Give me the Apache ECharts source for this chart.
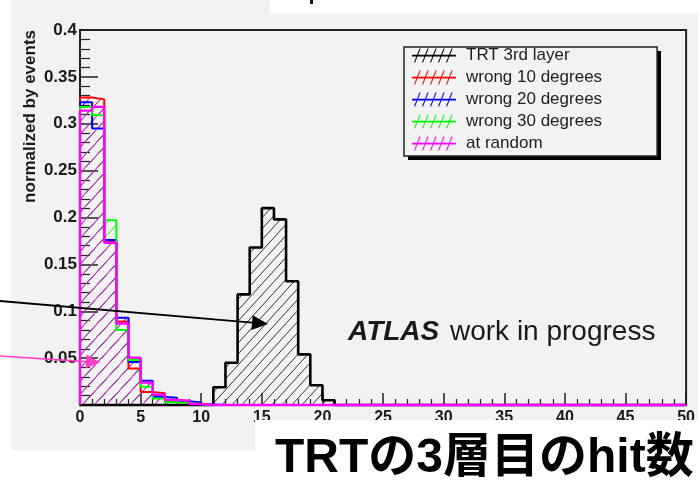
<!DOCTYPE html>
<html>
<head>
<meta charset="utf-8" />
<title>TRT 3rd layer hits</title>
<script type="text/javascript" src="https://cdn.jsdelivr.net/npm/echarts@6/dist/echarts.min.js"></script>
<style>
  body { margin: 0; background: #fff; }
  #container { width: 698px; height: 482px; }
</style>
</head>
<body>
<div id="container"></div>
<script type="text/javascript">
// bin contents, one value per unit bin from 0 to 50
var seriesNames = ['TRT 3rd layer', 'wrong 10 degrees', 'wrong 20 degrees', 'wrong 30 degrees', 'at random'];
var trt3rd = [0, 0, 0, 0, 0, 0, 0, 0, 0, 0,
              0, 0.019, 0.045, 0.118, 0.168, 0.210, 0.198, 0.132, 0.054, 0.021,
              0.005, 0, 0, 0, 0, 0, 0, 0, 0, 0,
              0, 0, 0, 0, 0, 0, 0, 0, 0, 0,
              0, 0, 0, 0, 0, 0, 0, 0, 0, 0];
var wrong10 = [0.328, 0.326, 0.175, 0.089, 0.039, 0.014, 0.0125, 0.0036, 0.002, 0.001,
               0, 0, 0, 0, 0, 0, 0, 0, 0, 0,
               0, 0, 0, 0, 0, 0, 0, 0, 0, 0,
               0, 0, 0, 0, 0, 0, 0, 0, 0, 0,
               0, 0, 0, 0, 0, 0, 0, 0, 0, 0];
var wrong20 = [0.323, 0.295, 0.176, 0.093, 0.046, 0.026, 0.0085, 0.0078, 0.004, 0.0028,
               0.0005, 0, 0, 0, 0, 0, 0, 0, 0, 0,
               0, 0, 0, 0, 0, 0, 0, 0, 0, 0,
               0, 0, 0, 0, 0, 0, 0, 0, 0, 0,
               0, 0, 0, 0, 0, 0, 0, 0, 0, 0];
var wrong30 = [0.318, 0.309, 0.197, 0.080, 0.048, 0.0196, 0.007, 0.003, 0.002, 0.001,
               0, 0, 0, 0, 0, 0, 0, 0, 0, 0,
               0, 0, 0, 0, 0, 0, 0, 0, 0, 0,
               0, 0, 0, 0, 0, 0, 0, 0, 0, 0,
               0, 0, 0, 0, 0, 0, 0, 0, 0, 0];
var atRandom = [0.314, 0.318, 0.173, 0.087, 0.0505, 0.024, 0.011, 0.0055, 0.0046, 0.001,
                0, 0, 0, 0, 0, 0, 0, 0, 0, 0,
                0, 0, 0, 0, 0, 0, 0, 0, 0, 0,
                0, 0, 0, 0, 0, 0, 0, 0, 0, 0,
                0, 0, 0, 0, 0, 0, 0, 0, 0, 0];
var seriesColors = ['#000000', '#ff0000', '#0000ff', '#00ff00', '#ff00ff'];

var FONT = 'Liberation Sans, Arial, Helvetica, sans-serif';

// step points for a histogram: bin i covers [i, i+1]
function histPoints(vals) {
    var pts = [[0, 0]];
    for (var i = 0; i < vals.length; i++) pts.push([i, vals[i]]);
    pts.push([vals.length, 0]);
    return pts;
}

// "/" hatch tile
function hatch(color, w, h, lw) {
    var c = document.createElement('canvas');
    c.width = w; c.height = h;
    var g = c.getContext('2d');
    g.strokeStyle = color;
    g.lineWidth = lw;
    g.beginPath();
    g.moveTo(0, h); g.lineTo(w, 0);
    g.moveTo(-w, h); g.lineTo(0, 0);
    g.moveTo(w, h); g.lineTo(2 * w, 0);
    g.stroke();
    return c;
}

function arrow(x1, y1, x2, y2, color, len, half, lw) {
    var dx = x2 - x1, dy = y2 - y1, d = Math.sqrt(dx * dx + dy * dy);
    var ux = dx / d, uy = dy / d;
    var bx = x2 - ux * len, by = y2 - uy * len;
    return [
        { type: 'line', z: 110, shape: { x1: x1, y1: y1, x2: bx, y2: by }, style: { stroke: color, lineWidth: lw } },
        { type: 'polygon', z: 110, shape: { points: [[x2, y2], [bx - uy * half, by + ux * half], [bx + uy * half, by - ux * half]] }, style: { fill: color } }
    ];
}

var legendIcon = 'path://M0 6.2L44 6.2L44 8L0 8Z' +
    'M2 14L7.5 0L8.6 0L3.1 14Z M10 14L15.5 0L16.6 0L11.1 14Z M18 14L23.5 0L24.6 0L19.1 14Z' +
    'M26 14L31.5 0L32.6 0L27.1 14Z M34 14L39.5 0L40.6 0L35.1 14Z';

var allData = [trt3rd, wrong10, wrong20, wrong30, atRandom];
var hatches = [
    hatch('#333333', 10, 11, 1),
    hatch('#ff0000', 12, 13, 1),
    hatch('#0000ff', 12, 13, 1),
    hatch('#00ff00', 12, 13, 1),
    hatch('#ff00ff', 12, 13, 1)
];
var widths = [2.6, 2, 2, 2, 2.4];

var series = [];
for (var s = 0; s < allData.length; s++) {
    series.push({
        name: seriesNames[s],
        type: 'line',
        step: 'end',
        data: histPoints(allData[s]),
        symbol: 'none',
        showSymbol: false,
        clip: false,
        lineStyle: { color: seriesColors[s], width: widths[s] },
        itemStyle: { color: seriesColors[s] },
        areaStyle: { color: { image: hatches[s], repeat: 'repeat' }, opacity: 1 }
    });
}

var graphics = [
    // legend drop shadow
    { type: 'rect', z: 3, shape: { x: 408, y: 51, width: 253, height: 109 }, style: { fill: '#000' } },
    { type: 'rect', z: 100, shape: { x: 0, y: 0, width: 11, height: 482 }, style: { fill: '#fff' } },
    { type: 'rect', z: 100, shape: { x: 270, y: 0, width: 428, height: 14 }, style: { fill: '#fff' } },
    { type: 'rect', z: 100, shape: { x: 0, y: 450, width: 698, height: 32 }, style: { fill: '#fff' } },
    { type: 'rect', z: 100, shape: { x: 255, y: 420, width: 443, height: 62 }, style: { fill: '#fff' } },
    { type: 'rect', z: 110, shape: { x: 310, y: 0, width: 3, height: 4 }, style: { fill: '#111' } },
    {
        type: 'text', z: 110, x: 30, y: 30, rotation: Math.PI / 2,
        style: { text: 'normalized by events', font: 'bold 17px ' + FONT, fill: '#1a1a1a', align: 'right', verticalAlign: 'middle' }
    },
    {
        type: 'text', z: 110, x: 348, y: 332,
        style: { text: 'ATLAS', font: 'italic bold 28px ' + FONT, fill: '#1a1a1a', verticalAlign: 'middle' }
    },
    {
        type: 'text', z: 110, x: 450, y: 332,
        style: { text: 'work in progress', font: '28px ' + FONT, fill: '#1a1a1a', verticalAlign: 'middle' }
    },
    {
        type: 'text', z: 110, x: 275, y: 459,
        style: { text: 'TRTの3層目のhit数', font: 'bold 48px Liberation Sans, Arial, Noto Sans CJK JP, sans-serif', fill: '#000', verticalAlign: 'middle' }
    }
].concat(arrow(0, 301, 268, 324, '#000000', 16, 7.5, 1.8))
 .concat(arrow(0, 356, 100, 362.5, '#ff3fc6', 14, 7, 1.6));

var dom = document.getElementById('container');
var myChart = echarts.init(dom);
var option = {
    animation: false,
    backgroundColor: '#f2f2f2',
    grid: { left: 80, right: 11, top: 30, bottom: 77, show: true, borderColor: '#222', borderWidth: 2, backgroundColor: 'transparent' },
    legend: {
        orient: 'vertical', left: 404, top: 47, z: 4,
        padding: [0, 55, 4, 8], itemGap: 5, itemWidth: 44, itemHeight: 14,
        backgroundColor: '#f2f2f2', borderColor: '#222', borderWidth: 1.5,
        icon: legendIcon,
        itemStyle: { borderWidth: 0 },
        selectedMode: false,
        textStyle: { fontFamily: FONT, fontSize: 17, color: '#222', padding: [0, 0, 0, 5] },
        data: seriesNames
    },
    xAxis: {
        type: 'value', min: 0, max: 50, interval: 5,
        axisLine: { onZero: false, lineStyle: { color: '#222', width: 2 } },
        axisTick: { inside: true, length: 12, lineStyle: { color: '#222', width: 1.5 } },
        minorTick: { show: true, splitNumber: 5, length: 6, lineStyle: { color: '#222', width: 1.2 } },
        splitLine: { show: false },
        axisLabel: { margin: 5, fontFamily: FONT, fontSize: 16, fontWeight: 'bold', color: '#1a1a1a' }
    },
    yAxis: {
        type: 'value', min: 0, max: 0.4, interval: 0.05,
        axisLine: { lineStyle: { color: '#222', width: 2 } },
        axisTick: { inside: true, length: 18, lineStyle: { color: '#222', width: 1.5 } },
        minorTick: { show: true, splitNumber: 5, length: 10, lineStyle: { color: '#222', width: 1.2 } },
        splitLine: { show: false },
        axisLabel: {
            margin: 3, fontFamily: FONT, fontSize: 17, fontWeight: 'bold', color: '#1a1a1a',
            formatter: function (v) { return v === 0 ? '' : String(parseFloat(v.toFixed(2))); }
        }
    },
    graphic: graphics,
    series: series
};
myChart.setOption(option, true);
</script>
</body>
</html>
